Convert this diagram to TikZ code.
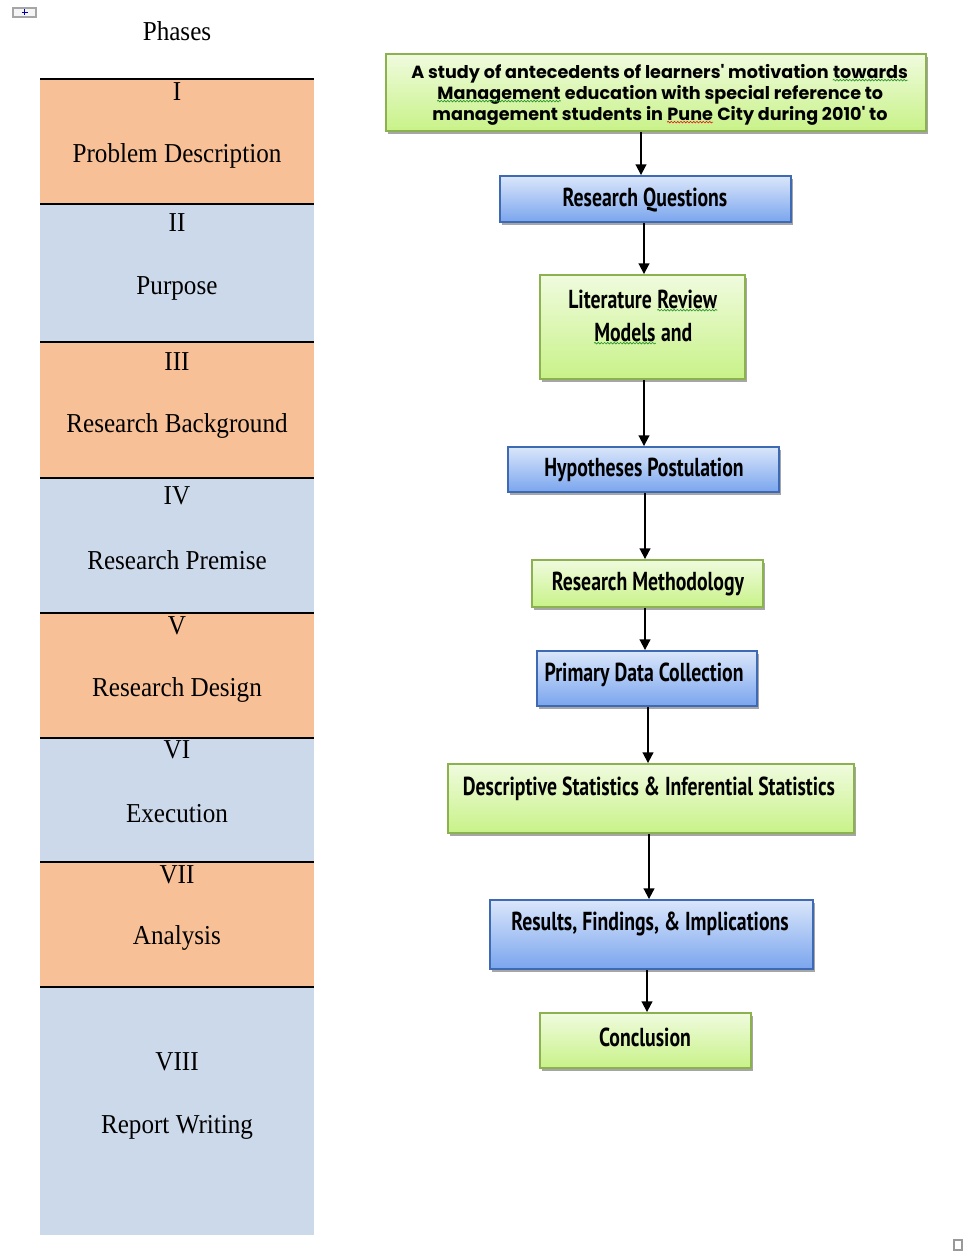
\documentclass[tikz,border=0pt]{standalone}
\usepackage{fontspec}
\usetikzlibrary{shadows,arrows.meta,decorations.pathmorphing}
\setmainfont{Liberation Serif}
\newfontfamily\phasefont[FakeStretch=0.92]{Liberation Serif}
\newfontfamily\flowfont[FakeStretch=0.76]{PT Sans}
\newfontfamily\titlefont{Poppins}

\definecolor{bandorange}{RGB}{248,192,150}
\definecolor{bandblue}{RGB}{204,217,234}
\definecolor{greentop}{RGB}{240,251,222}
\definecolor{greenbot}{RGB}{200,242,136}
\definecolor{greenline}{RGB}{140,178,80}
\definecolor{bluetop}{RGB}{218,230,250}
\definecolor{bluebot}{RGB}{122,165,238}
\definecolor{blueline}{RGB}{62,106,180}
\definecolor{spellgreen}{RGB}{40,150,40}
\definecolor{spellred}{RGB}{230,30,30}

% a word with a wavy spelling mark beneath it
\newcommand\wavyword[2]{\tikz[baseline=(w.base)]{\node[inner sep=0pt] (w) {#2};
  \draw[#1, line width=0.5pt, decorate, decoration={snake, amplitude=0.6pt, segment length=2.4pt}]
    ([yshift=-1.5pt]w.base west) -- ([yshift=-1.5pt]w.base east);}}

\begin{document}
\begin{tikzpicture}[x=0.75pt,y=-0.75pt,
  box/.style={rectangle, inner sep=0pt, line width=1.4pt,
    drop shadow={shadow xshift=1.5pt, shadow yshift=-2.2pt, fill=black, opacity=0.35}},
  greenbox/.style={box, draw=greenline, top color=greentop, bottom color=greenbot},
  bluebox/.style={box, draw=blueline, top color=bluetop, bottom color=bluebot},
  flow/.style={font=\flowfont\bfseries\fontsize{19.5}{24.75}\selectfont, inner sep=0pt, align=center},
  titletext/.style={font=\titlefont\bfseries\fontsize{13.2}{15.75}\selectfont, inner sep=0pt, align=center},
  phase/.style={font=\phasefont\fontsize{20.5}{24}\selectfont, inner sep=0pt},
  sep/.style={line width=1.5pt, black},
  arr/.style={-{Triangle[length=8pt,width=8pt]}, line width=1.4pt, black}
]
\useasboundingbox (0,0) rectangle (965,1255);

% ---- phases column ----
\fill[bandorange] (40,79) rectangle (314,204);
\fill[bandblue]   (40,204) rectangle (314,342);
\fill[bandorange] (40,342) rectangle (314,478);
\fill[bandblue]   (40,478) rectangle (314,613);
\fill[bandorange] (40,613) rectangle (314,738);
\fill[bandblue]   (40,738) rectangle (314,862);
\fill[bandorange] (40,862) rectangle (314,987);
\fill[bandblue]   (40,987) rectangle (314,1235);
\foreach \y in {79,204,342,478,613,738,862,987}
  \draw[sep] (40,\y) -- (314,\y);

\node[phase] (phases) at (177,31) {Phases};
\node[phase] (n1) at (177,92) {I};
\node[phase] (t1) at (177,156) {Problem Description};
\node[phase] (n2) at (177,223) {II};
\node[phase] (t2) at (177,288) {Purpose};
\node[phase] (n3) at (177,362) {III};
\node[phase] (t3) at (177,426) {Research Background};
\node[phase] (n4) at (177,496) {IV};
\node[phase] (t4) at (177,560) {Research Premise};
\node[phase] (n5) at (177,626) {V};
\node[phase] (t5) at (177,690) {Research Design};
\node[phase] (n6) at (177,750) {VI};
\node[phase] (t6) at (177,814) {Execution};
\node[phase] (n7) at (177,875) {VII};
\node[phase] (t7) at (177,938) {Analysis};
\node[phase] (n8) at (177,1062) {VIII};
\node[phase] (t8) at (177,1127) {Report Writing};

% ---- flow chart boxes ----
\node[greenbox, minimum width=405pt,   minimum height=57.75pt] (topic) at (656,92.5) {};
\node[bluebox,  minimum width=218.25pt, minimum height=34.5pt]  (rq)   at (645.5,199) {};
\node[greenbox, minimum width=153.75pt, minimum height=78pt]    (lr)   at (642.5,327) {};
\node[bluebox,  minimum width=203.25pt, minimum height=33.75pt] (hp)   at (643.5,469.5) {};
\node[greenbox, minimum width=173.25pt, minimum height=35.25pt] (rm)   at (647.5,583.5) {};
\node[bluebox,  minimum width=165pt,    minimum height=41.25pt] (pdc)  at (647,678.5) {};
\node[greenbox, minimum width=304.5pt,  minimum height=51.75pt] (ds)   at (651,798.5) {};
\node[bluebox,  minimum width=242.25pt, minimum height=51.75pt] (rf)   at (651.5,934.5) {};
\node[greenbox, minimum width=158.25pt, minimum height=41.25pt] (con)  at (645.5,1040.5) {};

% ---- box texts ----
\node[titletext] (topict) at (660,94.5) {A study of antecedents of learners' motivation \wavyword{spellgreen}{towards}\\
  \wavyword{spellgreen}{Management} education with special reference to\\
  management students in \wavyword{spellred}{Pune} City during 2010' to};
\node[flow] (rqt)  at (645,200) {Research Questions};
\node[flow] (lrt)  at (643,317) {Literature \wavyword{spellgreen}{Review}\\ \wavyword{spellgreen}{Models} and};
\node[flow] (hpt)  at (644,470) {Hypotheses Postulation};
\node[flow] (rmt)  at (648,584) {Research Methodology};
\node[flow] (pdct) at (644,675) {Primary Data Collection};
\node[flow] (dst)  at (649,789) {Descriptive Statistics \& Inferential Statistics};
\node[flow] (rft)  at (650,924) {Results, Findings, \& Implications};
\node[flow] (cont) at (645,1037) {Conclusion};

% ---- connectors ----
\draw[arr] (topic.south -| rq.north) ++(-4.5,0) coordinate (a0) -- (a0 |- rq.north);
\draw[arr] (rq.south -| lr.north) ++(1.5,0) coordinate (a1) -- (a1 |- lr.north);
\draw[arr] (lr.south -| hp.north) ++(0.5,0) coordinate (a2) -- (a2 |- hp.north);
\draw[arr] (hp.south -| rm.north) ++(-2.5,0) coordinate (a3) -- (a3 |- rm.north);
\draw[arr] (rm.south -| pdc.north) ++(-2,0) coordinate (a4) -- (a4 |- pdc.north);
\draw[arr] (pdc.south -| ds.north) ++(-3,0) coordinate (a5) -- (a5 |- ds.north);
\draw[arr] (ds.south -| rf.north) ++(-2.5,0) coordinate (a6) -- (a6 |- rf.north);
\draw[arr] (rf.south -| con.north) ++(1.5,0) coordinate (a7) -- (a7 |- con.north);

% ---- table handle and resize mark ----
\draw[gray!70, fill=gray!8, line width=0.8pt] (13,8) rectangle (36,17);
\draw[blue!70!black, line width=1pt] (21.5,12.5) -- (27.5,12.5) (24.5,9.5) -- (24.5,15.5);
\draw[gray!80, line width=1.2pt] (954,1240) rectangle (962,1250);
\end{tikzpicture}
\end{document}
